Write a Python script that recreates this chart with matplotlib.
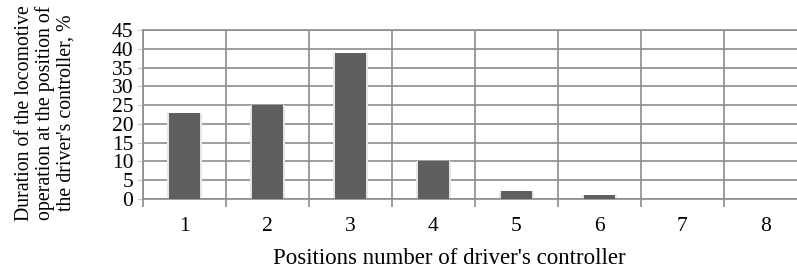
import numpy as np
import matplotlib
matplotlib.use('Agg')
import matplotlib.pyplot as plt

positions = [1, 2, 3, 4, 5, 6, 7, 8]
durations = [23, 25, 39, 10, 2, 1, 0, 0]
yticks = [0, 5, 10, 15, 20, 25, 30, 35, 40, 45]

plt.rcParams['font.family'] = ['Liberation Serif', 'DejaVu Serif']

fig = plt.figure(figsize=(7.97, 2.71), dpi=100)
ax = fig.add_axes([0.1794, 0.2657, 0.8331, 0.6236])

grid_c = '#8c8c8c'
x = np.arange(len(positions))
# faint halo to mimic the soft shadow around the bars
ax.bar(x, durations, width=0.42, color='#e6e6e6', zorder=2)
ax.bar(x, durations, width=0.37, color='#5f5f5f', zorder=3)

ax.set_xlim(-0.5, len(positions) - 0.5)
ax.set_ylim(0, 45)
ax.set_yticks(yticks)
ax.set_xticks(x)
ax.set_xticklabels([str(p) for p in positions])
ax.set_xticks(np.arange(len(positions) + 1) - 0.5, minor=True)

ax.tick_params(axis='x', which='major', length=0, labelsize=15.5, pad=13)
ax.tick_params(axis='x', which='minor', length=6, color=grid_c, width=1.2)
ax.tick_params(axis='y', length=4, color='#cccccc', labelsize=15.5, pad=3)
for lab in ax.get_yticklabels():
    lab.set_verticalalignment('center_baseline')

ax.grid(axis='y', color=grid_c, lw=1.2, zorder=1)
ax.grid(axis='x', which='minor', color=grid_c, lw=1.2, zorder=1)
for s in ax.spines.values():
    s.set_color(grid_c)
    s.set_linewidth(1.2)
ax.set_axisbelow(True)

ax.set_xlabel("Positions number of driver's controller", fontsize=16.5)
ax.xaxis.set_label_coords(0.462, -0.29)
ax.set_ylabel("Duration of the locomotive\noperation at the position of\nthe driver's controller, %",
              fontsize=14.3, linespacing=1.12)
ax.yaxis.set_label_coords(-0.101, 0.51)

plt.savefig('out.png', dpi=100)
